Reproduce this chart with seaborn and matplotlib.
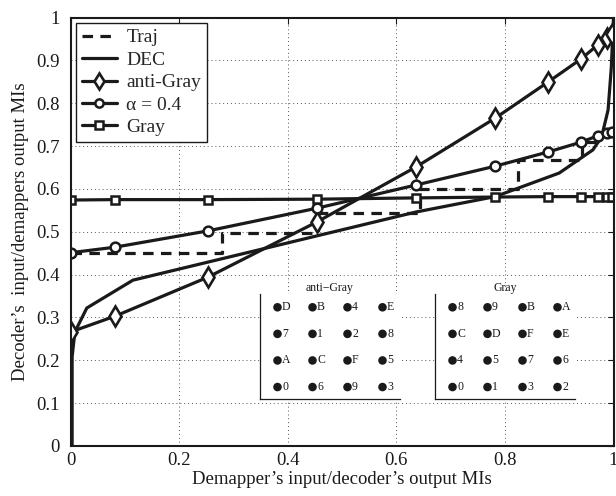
import numpy as np
import pandas as pd
import matplotlib
matplotlib.use("Agg")
import matplotlib.pyplot as plt
import seaborn as sns

# ---------------- data ----------------
x_pts = [0.0, 0.082, 0.253, 0.454, 0.636, 0.782, 0.879, 0.940, 0.971, 0.988, 0.997]
gray_y = [0.574, 0.575, 0.575, 0.576, 0.579, 0.581, 0.582, 0.582, 0.582, 0.582, 0.582]
alpha_y = [0.451, 0.464, 0.502, 0.555, 0.609, 0.653, 0.686, 0.709, 0.724, 0.730, 0.733]
anti_y = [0.266, 0.303, 0.394, 0.523, 0.651, 0.765, 0.849, 0.903, 0.936, 0.952, 0.961]

dec_x = [0.003, 0.003, 0.008, 0.030, 0.115, 0.636, 0.782, 0.900, 0.962, 0.978, 0.990, 0.996, 1.0]
dec_y = [0.0, 0.208, 0.266, 0.322, 0.387, 0.546, 0.582, 0.637, 0.691, 0.721, 0.784, 0.884, 1.0]

traj_x = [0.0, 0.279, 0.279, 0.455, 0.455, 0.644, 0.644, 0.825, 0.825, 0.942, 0.942, 0.975, 0.975]
traj_y = [0.450, 0.450, 0.497, 0.497, 0.544, 0.544, 0.600, 0.600, 0.667, 0.667, 0.709, 0.709, 0.730]

x_ticks = [0, 0.2, 0.4, 0.6, 0.8, 1]
x_tick_labels = ["0", "0.2", "0.4", "0.6", "0.8", "1"]
y_ticks = [0, 0.1, 0.2, 0.3, 0.4, 0.5, 0.6, 0.7, 0.8, 0.9, 1]
y_tick_labels = ["0", "0.1", "0.2", "0.3", "0.4", "0.5", "0.6", "0.7", "0.8", "0.9", "1"]

# 4x4 constellation labels, row-major from bottom row to top row
anti_gray_labels = ["0", "6", "9", "3",
                    "A", "C", "F", "5",
                    "7", "1", "2", "8",
                    "D", "B", "4", "E"]
gray_labels = ["0", "1", "3", "2",
               "4", "5", "7", "6",
               "C", "D", "F", "E",
               "8", "9", "B", "A"]

# ---------------- style ----------------
sns.set_style("white")
plt.rcParams["font.family"] = ["Liberation Serif", "DejaVu Serif"]

fig = plt.figure(figsize=(6.16, 4.96), dpi=100)
ax = fig.add_axes([70.5 / 616, 1 - 446 / 496, 543 / 616, 428.5 / 496])

K = "#1a1a1a"
LW = 2.3

sns.lineplot(x=traj_x, y=traj_y, ax=ax, estimator=None, sort=False, color=K,
             lw=LW, linestyle=(0, (3.3, 2.3)), label="Traj")
sns.lineplot(x=dec_x, y=dec_y, ax=ax, estimator=None, sort=False, color=K,
             lw=LW, label="DEC")
sns.lineplot(x=x_pts, y=anti_y, ax=ax, estimator=None, sort=False, color=K,
             lw=LW, marker="d", markersize=10, markerfacecolor="white",
             markeredgecolor=K, markeredgewidth=1.9, label="anti-Gray")
sns.lineplot(x=x_pts, y=alpha_y, ax=ax, estimator=None, sort=False, color=K,
             lw=LW, marker="o", markersize=7, markerfacecolor="white",
             markeredgecolor=K, markeredgewidth=1.8, label="\u03b1 = 0.4")
sns.lineplot(x=x_pts, y=gray_y, ax=ax, estimator=None, sort=False, color=K,
             lw=LW, marker="s", markersize=6, markerfacecolor="white",
             markeredgecolor=K, markeredgewidth=1.8, label="Gray")

ax.set_xlim(0, 1)
ax.set_ylim(0, 1)
ax.set_xticks(x_ticks)
ax.set_xticklabels(x_tick_labels)
ax.set_yticks(y_ticks)
ax.set_yticklabels(y_tick_labels)
ax.tick_params(direction="in", length=4, width=0.8, top=True, right=True,
               labelsize=13.5, colors=K)
ax.tick_params(axis="y", pad=8)
ax.tick_params(axis="x", pad=4)
ax.grid(True, linestyle=(0, (1, 3)), color="#555555", linewidth=0.7)
for s in ax.spines.values():
    s.set_color(K)
    s.set_linewidth(1.5)

ax.set_xlabel("Demapper\u2019s input/decoder\u2019s output MIs", fontsize=13.5,
              labelpad=2, color=K)
ax.set_ylabel("Decoder\u2019s  input/demappers output MIs", fontsize=13.5,
              labelpad=5, color=K)

leg = ax.legend(loc="upper left", fontsize=14, frameon=True, fancybox=False,
                handlelength=1.8, labelspacing=0.25, borderaxespad=0.28,
                borderpad=0.3, handletextpad=0.5, numpoints=1,
                markerscale=0.85)
leg.get_frame().set_edgecolor(K)
leg.get_frame().set_linewidth(1.0)
leg.get_frame().set_alpha(1)

# ---------------- constellation insets ----------------
def inset(rect, labels, title):
    iax = fig.add_axes(rect)
    cols = [i % 4 for i in range(len(labels))]
    rows = [i // 4 for i in range(len(labels))]
    sns.scatterplot(x=cols, y=rows, ax=iax, color=K, s=38, edgecolor="none",
                    legend=False)
    for c, r, t in zip(cols, rows, labels):
        iax.text(c + 0.13, r, t, fontsize=8.5, va="center", ha="left", color=K)
    iax.set_xlim(-0.5, 3.5)
    iax.set_ylim(-0.45, 3.5)
    iax.set_xticks([0.5, 1.5, 2.5])
    iax.set_yticks([0.5, 1.5, 2.5])
    iax.set_xticklabels([])
    iax.set_yticklabels([])
    iax.tick_params(direction="in", length=2.5, width=0.6, colors=K)
    iax.spines["top"].set_visible(False)
    iax.spines["right"].set_visible(False)
    iax.spines["left"].set_linewidth(0.9)
    iax.spines["bottom"].set_linewidth(0.9)
    iax.spines["left"].set_color(K)
    iax.spines["bottom"].set_color(K)
    iax.set_facecolor("white")
    iax.set_title(title, fontsize=8.5, pad=2, color=K)
    return iax

inset([260 / 616, 1 - 399 / 496, 140 / 616, 105 / 496], anti_gray_labels, "anti\u2212Gray")
inset([435 / 616, 1 - 399 / 496, 140 / 616, 105 / 496], gray_labels, "Gray")

fig.savefig("out.png", dpi=100)
